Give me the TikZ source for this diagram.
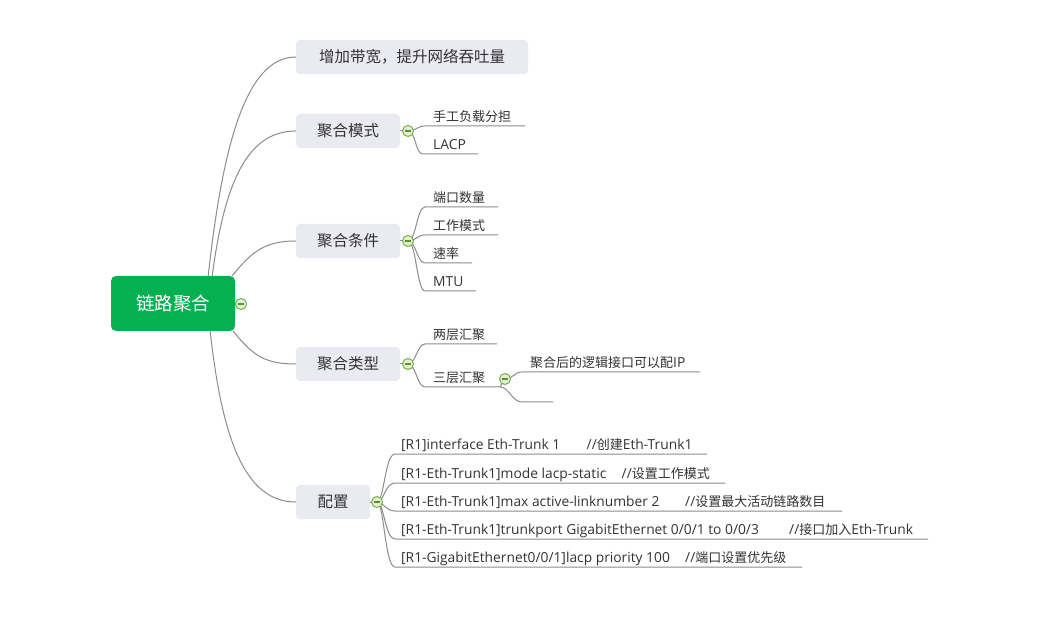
\documentclass[tikz,border=0pt]{standalone}
\usepackage{fontspec}
\setmainfont{Open Sans}
\newfontfamily\cjk{Noto Sans CJK SC}
\newcommand\zhtxt[1]{{\cjk\fontsize{13}{15}\selectfont #1}}
\pgfdeclarelayer{bg}
\pgfsetlayers{bg,main}
\definecolor{rootgreen}{HTML}{05B050}
\definecolor{topicfill}{HTML}{EAEAF2}
\definecolor{linegray}{HTML}{8C8C8C}
\definecolor{txt}{HTML}{333333}
\definecolor{cgreen}{HTML}{74B043}
\definecolor{cfill}{HTML}{E2F0D4}
\definecolor{cminus}{HTML}{5C8F33}
\tikzset{
  roottopic/.style={rectangle, rounded corners=5pt, fill=rootgreen, text=white,
    font=\cjk\fontsize{18.5}{20}\selectfont, minimum width=124pt, minimum height=55pt, inner sep=0pt},
  maintopic/.style={rectangle, rounded corners=4pt, fill=topicfill, text=txt,
    font=\cjk\fontsize{15.5}{17}\selectfont, minimum height=34pt, inner sep=0pt},
  subtext/.style={anchor=base west, inner sep=0pt, text=txt, font=\fontsize{13.8}{15}\selectfont},
  conn/.style={draw=linegray, line width=1pt},
  collapse/.style={circle, draw=cgreen, fill=cfill, line width=1pt, minimum size=11pt, inner sep=0pt,
    path picture={\draw[cminus, line width=1.5pt] ([xshift=-2.6pt]path picture bounding box.center) -- ([xshift=2.6pt]path picture bounding box.center);}},
}
\begin{document}
\begin{tikzpicture}[x=1pt,y=-1pt]
\useasboundingbox (0,0) rectangle (1055,617);

% main topics
\node[roottopic] (root) at (173,303.5) {链路聚合};
\node[maintopic, minimum width=232pt] (n1) at (412,57) {增加带宽，提升网络吞吐量};
\node[maintopic, minimum width=104pt] (n2) at (348,131) {聚合模式};
\node[maintopic, minimum width=104pt] (n3) at (348,241) {聚合条件};
\node[maintopic, minimum width=104pt] (n4) at (348,364) {聚合类型};
\node[maintopic, minimum width=74pt] (n5) at (333,502) {配置};

% collapse markers
\node[collapse] (c0) at (241,304) {};
\node[collapse] (c2) at (408,131) {};
\node[collapse] (c3) at (408,241) {};
\node[collapse] (c4) at (408,364) {};
\node[collapse] (c5) at (377,502) {};
\node[collapse] (c43) at (505,379) {};

% ---- 聚合模式 children
\coordinate (s21) at (425,126); \coordinate (e21) at (525,126);
\coordinate (s22) at (423,154); \coordinate (e22) at (478,154);
\node[subtext] (t21) at (433,121.5) {\zhtxt{手工负载分担}};
\node[subtext] (t22) at (433,149.5) {LACP};

% ---- 聚合条件 children
\coordinate (s31) at (425,207); \coordinate (e31) at (498,207);
\coordinate (s32) at (425,235); \coordinate (e32) at (498,235);
\coordinate (s33) at (425,263); \coordinate (e33) at (472,263);
\coordinate (s34) at (425,291); \coordinate (e34) at (476,291);
\node[subtext] (t31) at (433,202.5) {\zhtxt{端口数量}};
\node[subtext] (t32) at (433,230.5) {\zhtxt{工作模式}};
\node[subtext] (t33) at (433,258.5) {\zhtxt{速率}};
\node[subtext] (t34) at (433,286.5) {MTU};

% ---- 聚合类型 children
\coordinate (s41) at (425,344); \coordinate (e41) at (497,344);
\coordinate (s42) at (425,387); \coordinate (e42) at (500,387);
\node[subtext] (t41) at (433,339.5) {\zhtxt{两层汇聚}};
\node[subtext] (t42) at (433,382.5) {\zhtxt{三层汇聚}};
\coordinate (s431) at (522,372); \coordinate (e431) at (700,372);
\coordinate (s432) at (522,402); \coordinate (e432) at (553,402);
\node[subtext] (t431) at (530,367.5) {\zhtxt{聚合后的逻辑接口可以配}IP};

% ---- 配置 children
\coordinate (s51) at (395,454); \coordinate (e51) at (707,454);
\coordinate (s52) at (395,483); \coordinate (e52) at (725,483);
\coordinate (s53) at (395,511); \coordinate (e53) at (842,511);
\coordinate (s54) at (395,539); \coordinate (e54) at (928,539);
\coordinate (s55) at (395,567); \coordinate (e55) at (802,567);
\node[subtext] (t51) at (401,449.5) {[R1]interface Eth-Trunk 1};
\node[subtext] (k51) at (586.5,449.5) {//\zhtxt{创建}Eth-Trunk1};
\node[subtext] (t52) at (401,478.5) {[R1-Eth-Trunk1]mode lacp-static};
\node[subtext] (k52) at (621.5,478.5) {//\zhtxt{设置工作模式}};
\node[subtext] (t53) at (401,506.5) {[R1-Eth-Trunk1]max active-linknumber 2};
\node[subtext] (k53) at (685,506.5) {//\zhtxt{设置最大活动链路数目}};
\node[subtext] (t54) at (401,534.5) {[R1-Eth-Trunk1]trunkport GigabitEthernet 0/0/1 to 0/0/3};
\node[subtext] (k54) at (789,534.5) {//\zhtxt{接口加入}Eth-Trunk};
\node[subtext] (t55) at (401,562.5) {[R1-GigabitEthernet0/0/1]lacp priority 100};
\node[subtext] (k55) at (685,562.5) {//\zhtxt{端口设置优先级}};

\begin{pgfonlayer}{bg}
  \fill[white] (0,0) rectangle (1055,617);
  % root to main topics
  \draw[conn] ([xshift=-27pt]root.north east) .. controls +(14,-126) and +(-51,0) .. (n1.west);
  \draw[conn] ([xshift=-23pt]root.north east) .. controls +(12,-90) and +(-50,0) .. (n2.west);
  \draw[conn] ([xshift=-3pt]root.north east) .. controls +(20,-25) and +(-30,0) .. (n3.west);
  \draw[conn] ([xshift=-2pt]root.south east) .. controls +(20,25) and +(-30,0) .. (n4.west);
  \draw[conn] ([xshift=-25pt]root.south east) .. controls +(12,110) and +(-50,0) .. (n5.west);
  % topic to marker
  \draw[conn] (n2.east) -- (c2.center);
  \draw[conn] (n3.east) -- (c3.center);
  \draw[conn] (n4.east) -- (c4.center);
  \draw[conn] (n5.east) -- (c5.center);
  % 聚合模式
  \draw[conn] (c2.center) .. controls +(8,0) and +(-8,0) .. (s21) -- (e21);
  \draw[conn] (c2.center) .. controls +(8,0) and +(-8,0) .. (s22) -- (e22);
  % 聚合条件
  \foreach \i in {1,2,3,4}
    \draw[conn] (c3.center) .. controls +(8,0) and +(-8,0) .. (s3\i) -- (e3\i);
  % 聚合类型
  \draw[conn] (c4.center) .. controls +(8,0) and +(-8,0) .. (s41) -- (e41);
  \draw[conn] (c4.center) .. controls +(8,0) and +(-8,0) .. (s42) -- (e42) -- (c43.center);
  \draw[conn] (c43.center) .. controls +(8,0) and +(-8,0) .. (s431) -- (e431);
  \draw[conn] (e42) .. controls +(9,0) and +(-10,0) .. (s432) -- (e432);
  % 配置
  \foreach \i in {1,2,3,4,5}
    \draw[conn] (c5.center) .. controls +(7,0) and +(-10,0) .. (s5\i) -- (e5\i);
\end{pgfonlayer}
\end{tikzpicture}
\end{document}
